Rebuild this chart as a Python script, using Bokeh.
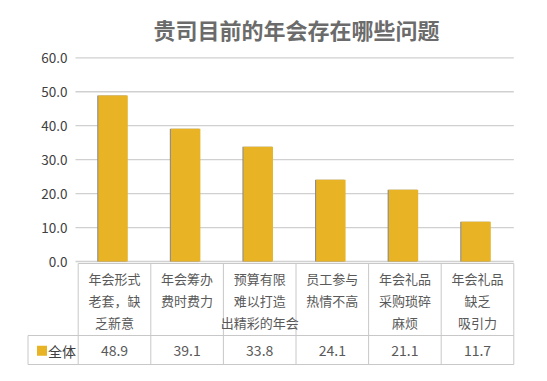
from bokeh.plotting import figure
from bokeh.models import ColumnDataSource, Label, Range1d
from bokeh.core.properties import value
from bokeh.embed import file_html
from bokeh.resources import INLINE
from bokeh.transform import dodge

# ---------------- data ----------------
title_text = "贵司目前的年会存在哪些问题"
categories = [
    "年会形式\n老套，缺\n乏新意",
    "年会筹办\n费时费力",
    "预算有限\n难以打造\n出精彩的年会",
    "员工参与\n热情不高",
    "年会礼品\n采购琐碎\n麻烦",
    "年会礼品\n缺乏\n吸引力",
]
series_name = "全体"
values = [48.9, 39.1, 33.8, 24.1, 21.1, 11.7]
value_labels = ["48.9", "39.1", "33.8", "24.1", "21.1", "11.7"]
y_ticks = [0, 10, 20, 30, 40, 50, 60]
y_tick_labels = ["0.0", "10.0", "20.0", "30.0", "40.0", "50.0", "60.0"]

# ---------------- layout constants ----------------
W, H = 547, 381
PX_X = 72.6      # pixels per category
PX_Y = 3.395     # pixels per value unit
X0 = 77.7        # px of left edge of first category
Y0 = 261.0       # px of value 0

def xd(cx):
    return (cx - X0) / PX_X

def yd(cy):
    return (Y0 - cy) / PX_Y

FONT = "Noto Sans CJK SC"
BAR = "#E8B425"
GRID = "#d0d0d0"
TABLE = "#c8c8c8"
TXT = "#595959"

p = figure(width=W, height=H, output_backend="svg", toolbar_location=None,
           x_range=Range1d(xd(0), xd(W)), y_range=Range1d(yd(H), yd(0)),
           min_border=0, min_border_left=0, min_border_right=0,
           min_border_top=0, min_border_bottom=0)
p.xaxis.visible = False
p.yaxis.visible = False
p.grid.visible = False
p.outline_line_color = None
p.background_fill_color = "white"
p.border_fill_color = "white"

n = len(categories)
centers = [i + 0.5 for i in range(n)]

# gridlines + tick marks
p.segment(x0=[xd(75)] * len(y_ticks), x1=[n] * len(y_ticks), y0=y_ticks, y1=y_ticks,
          line_color=GRID, line_width=1.3)
p.text(x=[xd(67)] * len(y_ticks), y=y_ticks, text=y_tick_labels,
       text_align="right", text_baseline="middle", text_font=value(FONT),
       text_font_size="13.5px", text_color="#404040")

# bars
src = ColumnDataSource(dict(x=centers, v=values, lab=value_labels))
p.vbar(x=dodge("x", -0.035, range=p.x_range), top="v", bottom=0, width=0.406, source=src,
       fill_color="#8c8c8c", line_color=None)
p.vbar(x=dodge("x", -0.02, range=p.x_range), top="v", bottom=0, width=0.406, source=src,
       fill_color=BAR, line_color=None)

# table lines
ty_top, ty_mid, ty_bot = yd(263), yd(335), yd(364)
x_left = xd(27.5)
p.segment(x0=list(range(n + 1)), x1=list(range(n + 1)),
          y0=[ty_top] * (n + 1), y1=[ty_bot] * (n + 1), line_color=TABLE, line_width=1)
p.segment(x0=[0, x_left, x_left, x_left], x1=[n, n, n, x_left],
          y0=[ty_top, ty_mid, ty_bot, ty_mid], y1=[ty_top, ty_mid, ty_bot, ty_bot],
          line_color=TABLE, line_width=1)

# category labels (one text per line)
line_y = [yd(278.3), yd(300), yd(321.5)]
lx, ly, lt = [], [], []
for i, c in enumerate(categories):
    for j, part in enumerate(c.split("\n")):
        lx.append(centers[i])
        ly.append(line_y[j])
        lt.append(part)
p.text(x=lx, y=ly, text=lt, text_align="center", text_baseline="middle",
       text_font=value(FONT), text_font_size="13px", text_color=TXT)

# value row
p.text(x="x", y=yd(350), text="lab", source=src, text_align="center",
       text_baseline="middle", text_font=value(FONT), text_font_size="14px",
       text_color=TXT)

# legend cell
p.rect(x=[xd(41.5)], y=[yd(350.3)], width=10, height=10, width_units="screen",
       height_units="screen", fill_color=BAR, line_color=None)
p.text(x=[xd(47.5)], y=[yd(350)], text=[series_name], text_align="left",
       text_baseline="middle", text_font=value(FONT), text_font_size="14px",
       text_color="#404040")

# title
p.add_layout(Label(x=xd(296), y=yd(28), text=title_text, text_align="center",
                   text_baseline="middle", text_font=FONT, text_font_size="22px",
                   text_font_style="bold", text_color="#6b6b6b"))

open("out.html", "w").write(file_html(p, INLINE))
